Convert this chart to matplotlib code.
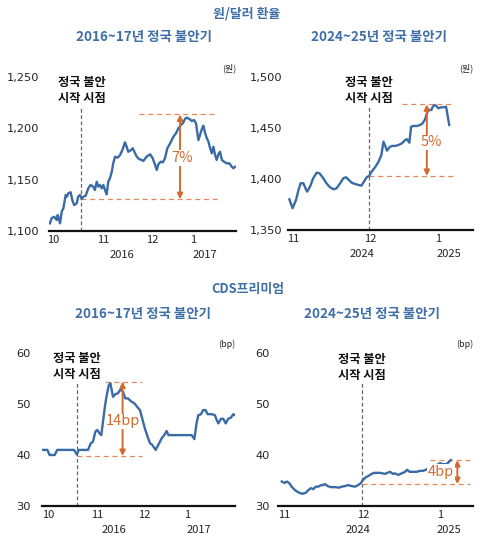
import matplotlib
matplotlib.use('Agg')
import matplotlib.pyplot as plt
from matplotlib.transforms import blended_transform_factory

plt.rcParams['font.family'] = ['Noto Sans CJK KR', 'DejaVu Sans']

LINE = '#3b6ba5'
TITLE_BLUE = '#3f6fa6'
ORANGE = '#d26c2e'
ORANGE_L = '#e3885a'

# ---------------- data ----------------
# 원/달러 환율, 2016~17 (x = trading-day index from early Oct 2016)
fx16_day = [0.0, 0.7, 1.8, 2.9, 3.3, 4.3, 5.0, 5.7, 6.7, 7.2, 7.8, 8.8, 9.5, 10.3, 11.4, 12.0, 12.8, 13.5,
            14.2, 15.2, 16.3, 17.3, 18.4, 19.1, 19.9, 20.6, 21.3, 22.0, 22.7, 23.4, 24.1, 24.8, 25.5, 26.3,
            26.9, 27.7, 28.8, 29.8, 30.8, 31.9, 32.6, 33.3, 34.5, 35.2, 36.2, 36.9, 37.9, 39.0, 39.7, 41.1,
            42.6, 43.7, 44.7, 45.4, 46.1, 47.1, 48.0, 48.9, 49.9, 51.1, 52.5, 53.6, 54.6, 55.6, 56.5, 57.4,
            58.2, 59.3, 60.3, 61.3, 62.1, 63.1, 63.8, 64.6, 65.2, 66.0, 66.7, 67.4, 68.1, 68.8, 69.5, 70.2,
            70.9, 71.6, 72.3, 73.1, 74.0, 75.2, 76.3, 77.3, 78.0, 78.7]
fx16_val = [1107.5, 1112.4, 1113.9, 1110.7, 1115.6, 1107.5, 1118.8, 1122.1, 1135.1, 1133.4, 1136.7, 1137.7,
            1130.2, 1125.3, 1127.0, 1133.4, 1135.1, 1131.2, 1133.4, 1134.4, 1141.6, 1144.8, 1143.2, 1139.9,
            1148.0, 1143.2, 1144.8, 1141.6, 1144.8, 1139.9, 1135.7, 1148.0, 1151.3, 1157.8, 1165.9, 1172.4,
            1171.4, 1174.0, 1178.9, 1186.4, 1182.1, 1177.2, 1178.9, 1180.6, 1175.7, 1172.4, 1170.1, 1169.2,
            1168.2, 1172.4, 1174.7, 1170.8, 1164.3, 1159.4, 1165.0, 1167.5, 1166.9, 1170.8, 1180.6, 1185.4,
            1191.9, 1195.2, 1200.0, 1203.2, 1204.9, 1209.1, 1210.4, 1209.1, 1207.1, 1208.1, 1204.9, 1188.6,
            1193.5, 1199.4, 1202.6, 1195.2, 1190.3, 1187.0, 1180.6, 1175.7, 1182.1, 1174.0, 1169.2, 1174.7,
            1177.2, 1169.2, 1167.5, 1165.9, 1165.9, 1162.6, 1161.1, 1162.6]

# 원/달러 환율, 2024~25 (x = trading-day index from Nov 2024)
fx24_day = [0.3, 1.2, 2.2, 2.9, 3.5, 4.3, 5.1, 5.4, 6.2, 7.1, 8.1, 8.9, 9.8, 10.9, 11.9, 12.9, 13.8, 14.8,
            15.7, 16.5, 17.1, 18.1, 19.1, 20.0, 20.9, 21.6, 22.4, 23.1, 23.8, 24.8, 25.8, 26.6, 27.2, 27.7,
            28.2, 28.9, 29.6, 30.6, 31.5, 32.5, 33.4, 33.9, 34.6, 35.1, 35.8, 36.8, 37.7, 38.4, 39.1, 39.6,
            40.1, 40.9, 41.3, 41.8, 42.3, 42.9, 43.6, 44.4, 45.1, 45.6, 46.0]
fx24_val = [1380.1, 1371.3, 1379.5, 1389.3, 1395.8, 1395.8, 1389.3, 1387.6, 1392.5, 1400.7, 1406.2, 1405.6,
            1401.7, 1395.8, 1391.9, 1389.9, 1390.9, 1395.8, 1400.7, 1401.7, 1399.7, 1396.4, 1395.1, 1394.2,
            1393.5, 1397.4, 1401.7, 1403.0, 1407.2, 1411.5, 1417.0, 1423.6, 1436.6, 1432.4, 1427.8, 1431.1,
            1432.4, 1432.4, 1433.4, 1435.0, 1438.3, 1439.0, 1435.6, 1451.3, 1452.0, 1452.0, 1453.0, 1454.6,
            1458.5, 1464.4, 1467.7, 1467.7, 1470.9, 1472.6, 1471.6, 1469.3, 1470.3, 1470.3, 1470.9, 1461.1,
            1453.0]

# CDS 프리미엄, 2016~17
cds16_day = [0.0, 2.2, 3.1, 5.2, 6.2, 9.3, 13.1, 14.2, 15.0, 18.8, 19.9, 20.8, 21.8, 22.6, 23.4, 24.2, 24.9,
             25.6, 26.2, 27.2, 27.9, 29.0, 29.9, 31.0, 32.1, 33.1, 34.0, 35.1, 36.4, 37.8, 39.1, 40.0, 40.9,
             42.0, 43.1, 44.1, 45.0, 46.4, 47.5, 48.9, 49.9, 50.9, 51.6, 54.3, 58.4, 61.1, 62.2, 63.1, 63.8,
             64.9, 65.8, 66.8, 67.6, 69.3, 70.6, 71.3, 72.0, 73.1, 74.0, 75.0, 76.0, 77.1, 78.1, 78.8]
cds16_val = [41, 41, 40, 40, 41, 41, 41, 40.1, 41, 41, 42.3, 42.6, 44.6, 44.9, 44.3, 43.9, 46.5, 49.2, 51.1,
             53.6, 54.1, 51.4, 51.9, 52.1, 52.9, 52.4, 51.1, 51.1, 50.5, 50.1, 49.3, 48.8, 47.2, 45.2, 43.6,
             42.3, 42.0, 41.0, 42.0, 43.3, 43.9, 44.7, 43.9, 43.9, 43.9, 43.9, 43.1, 46.2, 47.8, 48.0, 48.8,
             48.8, 48.0, 48.0, 47.8, 46.9, 46.2, 47.1, 47.1, 46.2, 47.1, 47.3, 48.0, 47.8]

# CDS 프리미엄, 2024~25
cds24_day = [0.2, 1.0, 1.7, 2.4, 3.1, 4.1, 5.3, 6.3, 7.3, 8.0, 8.8, 9.5, 10.2, 11.0, 11.8, 12.4, 12.9, 13.7,
             14.7, 15.9, 17.1, 17.9, 18.8, 19.8, 20.8, 21.8, 22.7, 23.5, 24.2, 24.9, 25.7, 26.7, 27.4, 28.1,
             29.1, 29.9, 30.6, 31.3, 32.1, 32.9, 33.5, 34.5, 35.5, 36.5, 37.1, 37.9, 38.9, 39.9, 40.9, 41.9,
             42.9, 43.8, 44.8, 45.8, 46.8, 47.7, 48.5, 49.2, 50.0]
cds24_val = [34.8, 34.5, 34.8, 34.5, 33.8, 33.1, 32.6, 32.4, 32.6, 33.1, 33.5, 33.3, 33.8, 33.8, 34.1, 34.1,
             34.3, 33.9, 33.7, 33.7, 33.6, 33.8, 33.9, 34.1, 33.9, 33.8, 34.1, 34.5, 35.2, 35.6, 35.9, 36.3,
             36.5, 36.5, 36.5, 36.4, 36.3, 36.5, 36.7, 36.3, 36.4, 36.1, 36.4, 36.7, 37.1, 36.7, 36.7, 36.7,
             36.9, 36.9, 37.2, 37.7, 38.0, 38.0, 38.4, 38.2, 38.2, 38.5, 39.0]

# axis labels
fx16_yticks = [1100, 1150, 1200, 1250]
fx16_ylabels = ['1,100', '1,150', '1,200', '1,250']
fx24_yticks = [1350, 1400, 1450, 1500]
fx24_ylabels = ['1,350', '1,400', '1,450', '1,500']
cds_yticks = [30, 40, 50, 60]
cds_ylabels = ['30', '40', '50', '60']

months_16 = ['10', '11', '12', '1']
years_16 = ['2016', '2017']
months_24 = ['11', '12', '1']
years_24 = ['2024', '2025']

# annotations: start day, low level, high level, change label
fx16_start, fx16_low, fx16_high, fx16_chg = 13.4, 1131.0, 1213.5, '7%'
fx24_start, fx24_low, fx24_high, fx24_chg = 23.1, 1403.0, 1473.2, '5%'
cds16_start, cds16_low, cds16_high, cds16_chg = 14.3, 39.8, 54.4, '14bp'
cds24_start, cds24_low, cds24_high, cds24_chg = 23.8, 34.3, 39.0, '4bp'

titles = ['원/달러 환율', 'CDS프리미엄']
subtitles = ['2016~17년 정국 불안기', '2024~25년 정국 불안기']
units = ['(원)', '(bp)']
start_label = '정국 불안\n시작 시점'


fig = plt.figure(figsize=(4.95, 5.54), dpi=100)
W, H = 495, 554


def add_ax(x0, x1, ytop, ybot):
    return fig.add_axes([x0 / W, 1 - ybot / H, (x1 - x0) / W, (ybot - ytop) / H])


def panel(ax, day, val, xlim, ylim, yt, yl, mpos, mlab, ypos, ylab, start, vtop,
          lo, hi, lo_x, hi_x, arrow_x, chg, chg_xy, unit, ann_y, ypad):
    ax.plot(day, val, color=LINE, lw=1.7, solid_joinstyle='round', zorder=3)
    ax.set_xlim(*xlim)
    ax.set_ylim(*ylim)
    ax.set_yticks(yt)
    ax.set_yticklabels(yl, fontfamily='DejaVu Sans', fontsize=8.2)
    ax.set_xticks(mpos)
    ax.set_xticklabels(mlab, fontsize=8)
    ax.tick_params(length=0, colors='#222222')
    ax.tick_params(axis='y', pad=ypad)
    ax.tick_params(axis='x', pad=3)
    for s in ['top', 'right', 'left']:
        ax.spines[s].set_visible(False)
    ax.spines['bottom'].set_linewidth(1.6)
    ax.spines['bottom'].set_color('#111111')
    for p, l in zip(ypos, ylab):
        ax.annotate(l, xy=(p, 0), xycoords=('data', 'axes fraction'), xytext=(0, -17.5),
                    textcoords='offset points', ha='center', va='center', fontsize=8, color='#222222')
    ax.axvline(start, ymin=0, ymax=vtop, color='#666666', lw=0.9, ls=(0, (3, 2)), zorder=2)
    ax.hlines(lo, lo_x[0], lo_x[1], color=ORANGE_L, lw=0.9, ls=(0, (4, 3)), zorder=2, clip_on=False)
    ax.hlines(hi, hi_x[0], hi_x[1], color=ORANGE_L, lw=0.9, ls=(0, (4, 3)), zorder=2, clip_on=False)
    ax.annotate('', xy=(arrow_x, hi), xytext=(arrow_x, lo),
                arrowprops=dict(arrowstyle='<|-|>', color=ORANGE, lw=1.4, shrinkA=0, shrinkB=0,
                                mutation_scale=8), zorder=4)
    ax.text(chg_xy[0], chg_xy[1], chg, color=ORANGE, fontsize=10.5, ha='center', va='center',
            bbox=dict(fc='white', ec='none', pad=0.5), zorder=5)
    ax.text(1.0, 1.058, unit, transform=ax.transAxes, ha='right', va='center', fontsize=6.5,
            color='#222222')
    tr = blended_transform_factory(ax.transData, ax.transAxes)
    ax.text(start, ann_y, start_label, transform=tr, ha='center', va='center', fontsize=8.8,
            fontweight='bold', linespacing=1.3, color='#111111')


ax1 = add_ax(49, 236, 77, 231)
panel(ax1, fx16_day, fx16_val, (-0.4, 79.1), (1100, 1250), fx16_yticks, fx16_ylabels,
      [1.3, 22.6, 43.4, 60.9], months_16, [30.6, 66.0], years_16, fx16_start, 0.805,
      fx16_low, fx16_high, (fx16_start, 71.5), (37.9, 71.1), 55.3, fx16_chg, (56.0, 1171),
      units[0], 0.912, 7)

ax2 = add_ax(288, 473, 77, 230)
panel(ax2, fx24_day, fx24_val, (-0.1, 52.8), (1350, 1500), fx24_yticks, fx24_ylabels,
      [1.4, 23.4, 42.9], months_24, [21.1, 46.0], years_24, fx24_start, 0.804,
      fx24_low, fx24_high, (fx24_start, 47.2), (32.5, 47.2), 39.6, fx24_chg, (41.0, 1436),
      units[0], 0.912, 4)

ax3 = add_ax(42, 235, 353, 506)
panel(ax3, cds16_day, cds16_val, (0, 78.8), (30, 60), cds_yticks, cds_ylabels,
      [2.4, 22.4, 41.6, 59.2], months_16, [29.4, 64.1], years_16, cds16_start, 0.82,
      cds16_low, cds16_high, (cds16_start, 40.8), (25.7, 40.8), 32.9, cds16_chg, (32.9, 46.6),
      units[1], 0.915, 8)

ax4 = add_ax(278, 473, 353, 506)
panel(ax4, cds24_day, cds24_val, (-0.9, 56.5), (30, 60), cds_yticks, cds_ylabels,
      [0.9, 24.1, 46.8], months_24, [22.6, 49.4], years_24, cds24_start, 0.81,
      cds24_low, cds24_high, (cds24_start, 55.6), (43.8, 55.6), 51.9, cds24_chg, (47.0, 36.7),
      units[1], 0.905, 6)

# titles
fig.text(247 / W, 1 - 13 / H, titles[0], ha='center', va='center', fontsize=9.3, fontweight='bold',
         color=TITLE_BLUE)
fig.text(248 / W, 1 - 289 / H, titles[1], ha='center', va='center', fontsize=9.3, fontweight='bold',
         color=TITLE_BLUE)
fig.text(144.5 / W, 1 - 37 / H, subtitles[0], ha='center', va='center', fontsize=9.7, fontweight='bold',
         color=TITLE_BLUE)
fig.text(379 / W, 1 - 37 / H, subtitles[1], ha='center', va='center', fontsize=9.7, fontweight='bold',
         color=TITLE_BLUE)
fig.text(143 / W, 1 - 314 / H, subtitles[0], ha='center', va='center', fontsize=9.7, fontweight='bold',
         color=TITLE_BLUE)
fig.text(372.5 / W, 1 - 314 / H, subtitles[1], ha='center', va='center', fontsize=9.7, fontweight='bold',
         color=TITLE_BLUE)

fig.savefig('out.png', dpi=100)
